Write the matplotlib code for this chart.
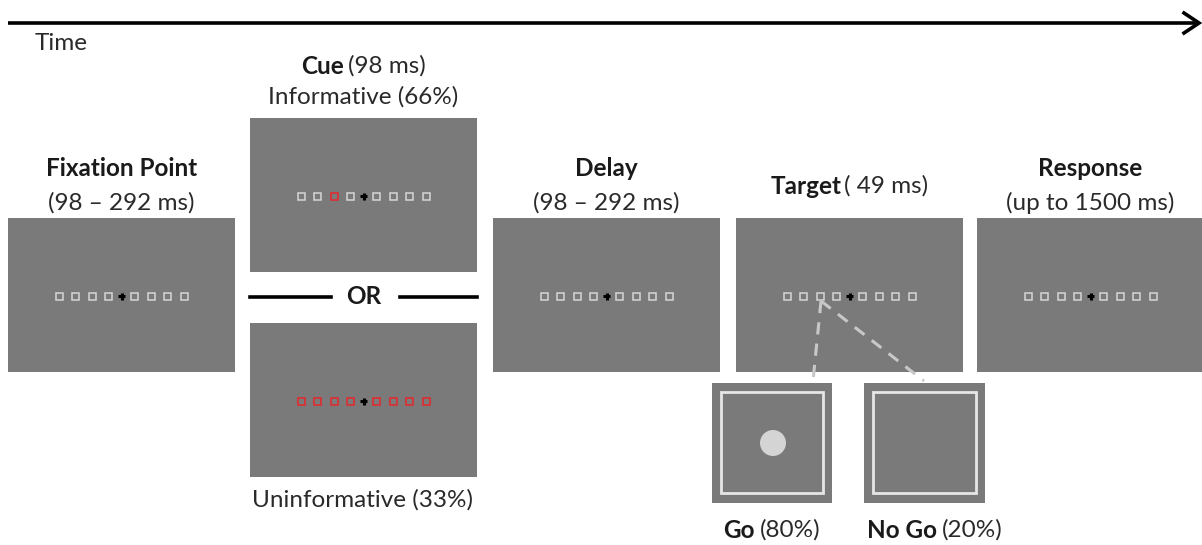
import matplotlib
matplotlib.use("Agg")
import matplotlib.pyplot as plt
from matplotlib.patches import Rectangle, Circle

plt.rcParams['font.family'] = ['Lato', 'DejaVu Sans']

# ---- content ----
stage_titles = ["Fixation Point", "Delay", "Response"]
stage_durations = ["(98 \u2013 292 ms)", "(98 \u2013 292 ms)", "(up to 1500 ms)"]
cue_title = "Cue"
cue_duration = "(98 ms)"
cue_informative = "Informative (66%)"
cue_uninformative = "Uninformative (33%)"
target_title = "Target"
target_duration = "( 49 ms)"
go_labels = ["Go", "No Go"]
go_probs = ["(80%)", "(20%)"]
time_label = "Time"
or_label = "OR"

# ---- style ----
PANEL = "#7a7a7a"
PH = "#d6d6d6"
RED = "#e8262b"
TXT = "#1a1a1a"
TXT_REG = "#2a2a2a"
W, H = 1202, 545
FS = 17.5
REG = "normal"

fig = plt.figure(figsize=(W / 100, H / 100), dpi=100)
ax = fig.add_axes([0, 0, 1, 1])
ax.set_xlim(0, W)
ax.set_ylim(H, 0)
ax.axis("off")
renderer = fig.canvas.get_renderer()


def panel(x0, y0, x1, y1):
    ax.add_patch(Rectangle((x0, y0), x1 - x0, y1 - y0, facecolor=PANEL,
                           edgecolor="none"))


def array(cx, cy, red_idx=()):
    offs = [-62.5, -46, -29.5, -13, 13, 29.5, 46, 62.5]
    s = 7
    for i, o in enumerate(offs):
        col = RED if i in red_idx else PH
        ax.add_patch(Rectangle((cx + o - s / 2, cy - s / 2), s, s,
                               facecolor="none", edgecolor=col, lw=1.1))
    ax.plot([cx - 3.5, cx + 3.5], [cy, cy], color="black", lw=2.2,
            solid_capstyle="butt")
    ax.plot([cx, cx], [cy - 3.5, cy + 3.5], color="black", lw=2.2,
            solid_capstyle="butt")


def mixed(cx, cy, parts, size, gap=3):
    texts = []
    for s, wt in parts:
        t = ax.text(0, cy, s, fontsize=size, fontweight=wt,
                    color=TXT if wt == "bold" else TXT_REG,
                    ha="left", va="center")
        texts.append(t)
    widths = [t.get_window_extent(renderer).width for t in texts]
    total = sum(widths) + gap * (len(texts) - 1)
    x = cx - total / 2
    for t, w in zip(texts, widths):
        t.set_x(x)
        x += w + gap


def text(cx, cy, s, size, weight=REG):
    ax.text(cx, cy, s, fontsize=size, fontweight=weight,
            color=TXT if weight == "bold" else TXT_REG,
            ha="center", va="center")


# timeline
ax.plot([8, 1199], [23, 23], color="black", lw=2.6, solid_capstyle="butt")
ax.plot([1184, 1199, 1184], [13, 23, 33], color="black", lw=2.6,
        solid_joinstyle="miter")
text(61, 44, time_label, FS)

# main panels
panels = [(8, 235), (493, 720), (977, 1204)]
for (x0, x1), ttl, dur in zip(panels, stage_titles, stage_durations):
    panel(x0, 218, x1, 372)
    array((x0 + x1) / 2, 296)
    text((x0 + x1) / 2, 168, ttl, FS, "bold")
    text((x0 + x1) / 2, 203, dur, FS)

# cue panels
panel(250, 118, 477, 272)
array(363.5, 196, red_idx=(2,))
panel(250, 323, 477, 477)
array(363.5, 401, red_idx=tuple(range(8)))
mixed(363.5, 66, [(cue_title, "bold"), (cue_duration, REG)], FS, gap=4)
text(363.5, 97, cue_informative, FS)
text(362, 500, cue_uninformative, FS)
ax.plot([250, 331], [297, 297], color="black", lw=2.6)
ax.plot([400, 477], [297, 297], color="black", lw=2.6)
text(364, 297, or_label, FS, "bold")

# target panel
panel(736, 218, 963, 372)
array(849.5, 296)
mixed(849.5, 186, [(target_title, "bold"), (target_duration, REG)], FS,
      gap=2)

# go / nogo
ax.plot([821, 813], [301, 381], color="#c8c8c8", lw=2.2, ls=(0, (4, 3)))
ax.plot([821, 924], [301, 381], color="#c8c8c8", lw=2.2, ls=(0, (4, 3)))
boxes = [(712, 832), (864, 985)]
label_centers = [772, 935]
for i, (x0, x1) in enumerate(boxes):
    panel(x0, 383, x1, 503)
    ax.add_patch(Rectangle((x0 + 9, 392), (x1 - x0) - 18, 101,
                           facecolor="none", edgecolor="#e6e6e6", lw=2))
    mixed(label_centers[i], 530, [(go_labels[i], "bold"),
                                  (go_probs[i], REG)], FS, gap=5)
ax.add_patch(Circle((773, 443), 13, facecolor="#d4d4d4", edgecolor="none"))

fig.savefig("out.png", dpi=100, facecolor="white")
